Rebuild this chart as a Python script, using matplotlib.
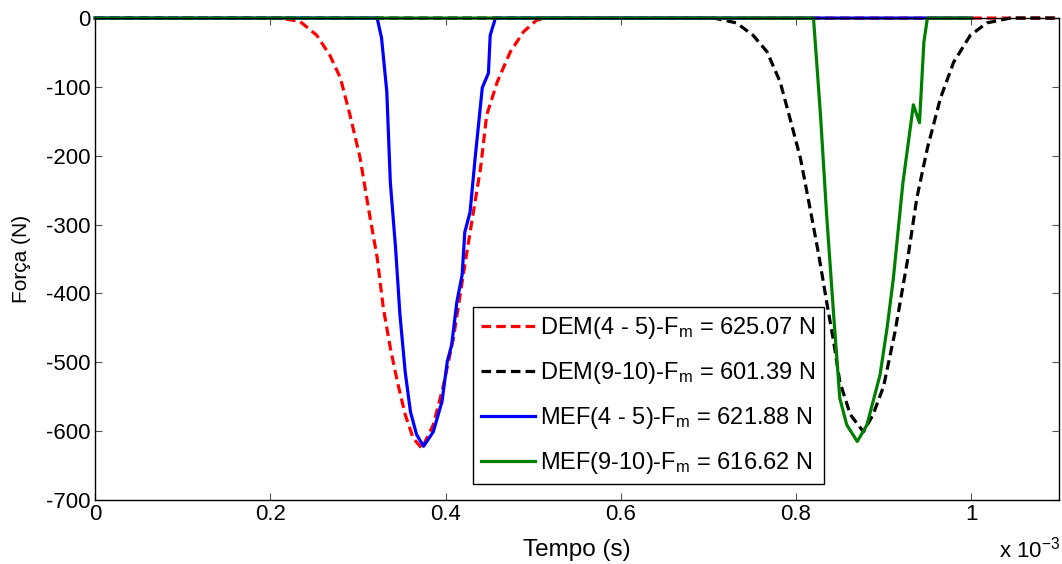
import numpy as np
import matplotlib.pyplot as plt

plt.rcParams['font.family'] = ['Liberation Sans', 'DejaVu Sans']
plt.rcParams['mathtext.fontset'] = 'custom'
plt.rcParams['mathtext.rm'] = 'Liberation Sans'
plt.rcParams['mathtext.it'] = 'Liberation Sans'
plt.rcParams['axes.unicode_minus'] = False

# tempo em ms (x 10^-3 s), forca em N
t_dem45 = [0, 0.20, 0.211, 0.234, 0.253, 0.268, 0.280, 0.291, 0.3025, 0.312, 0.322, 0.329,
           0.337, 0.345, 0.354, 0.363, 0.373, 0.386, 0.397, 0.409, 0.420, 0.430,
           0.440, 0.447, 0.459, 0.474, 0.489, 0.504, 0.516, 1.1]
f_dem45 = [0, 0, 0, -5, -25, -54, -87, -141, -203, -276, -348, -421,
           -479, -528, -576, -610, -625, -591, -537, -465, -375, -296,
           -218, -141, -93, -49, -20, -3, 0, 0]

t_dem910 = [0, 0.69, 0.706, 0.732, 0.751, 0.767, 0.782, 0.793, 0.805, 0.816, 0.826, 0.835,
            0.843, 0.850, 0.862, 0.877, 0.888, 0.900, 0.913, 0.927, 0.938, 0.950,
            0.965, 0.980, 0.999, 1.018, 1.045, 1.1]
f_dem910 = [0, 0, 0, -7, -25, -49, -93, -145, -203, -276, -344, -412,
            -470, -528, -576, -601, -576, -535, -456, -354, -261, -189,
            -116, -64, -25, -7, 0, 0]

t_mef45 = [0, 0.322, 0.327, 0.333, 0.337, 0.343, 0.348, 0.354, 0.360, 0.367, 0.375,
           0.386, 0.396, 0.402, 0.407, 0.413, 0.419, 0.422, 0.428, 0.434, 0.442,
           0.449, 0.451, 0.457, 1.0]
f_mef45 = [0, 0, -29, -107, -238, -334, -431, -514, -572, -605, -622,
           -601, -557, -499, -475, -412, -373, -311, -282, -201, -101,
           -80, -25, 0, 0]

t_mef910 = [0, 0.820, 0.828, 0.835, 0.843, 0.850, 0.858, 0.870, 0.881, 0.896, 0.904,
            0.911, 0.922, 0.934, 0.941, 0.946, 0.950, 1.0]
f_mef910 = [0, 0, -141, -286, -431, -552, -591, -615, -591, -518, -450,
            -380, -240, -126, -152, -35, 0, 0]

labels = ['DEM(4 - 5)-F$_m$ = 625.07 N', 'DEM(9-10)-F$_m$ = 601.39 N',
          'MEF(4 - 5)-F$_m$ = 621.88 N', 'MEF(9-10)-F$_m$ = 616.62 N']

fig = plt.figure(figsize=(10.62, 5.64), dpi=100)
ax = fig.add_axes([0.0895, 0.1135, 0.9075, 0.8545])

ax.plot(t_dem45, f_dem45, 'r--', lw=2.3, dashes=(3, 1.6), label=labels[0], clip_on=False)
ax.plot(t_dem910, f_dem910, 'k--', lw=2.3, dashes=(3, 1.6), label=labels[1], clip_on=False)
ax.plot(t_mef45, f_mef45, color='#0000ff', lw=2.3, label=labels[2], clip_on=False)
ax.plot(t_mef910, f_mef910, color='#008000', lw=2.3, label=labels[3], clip_on=False)

ax.set_xlim(0, 1.1)
ax.set_ylim(-700, 0)
ax.set_xticks([0, 0.2, 0.4, 0.6, 0.8, 1.0])
ax.set_xticklabels(['0', '0.2', '0.4', '0.6', '0.8', '1'])
ax.set_yticks(np.arange(-700, 1, 100))
ax.tick_params(direction='in', top=True, right=True, length=5, width=0.8,
               labelsize=16, color='#555555', pad=3)
for s in ax.spines.values():
    s.set_linewidth(1.0)
    s.set_color('k')

ax.set_xlabel('Tempo (s)', fontsize=17.5, labelpad=10)
ax.set_ylabel('Força (N)', fontsize=15, labelpad=11)
fig.text(0.998, 0.003, 'x 10$^{-3}$', fontsize=16, ha='right', va='bottom')

leg = ax.legend(loc='upper left', bbox_to_anchor=(0.392, 0.40), fontsize=17,
                handlelength=2.3, handletextpad=0.2, borderpad=0.35, labelspacing=0.8,
                fancybox=False, framealpha=1, edgecolor='k', borderaxespad=0)
leg.get_frame().set_linewidth(1.0)
leg.set_zorder(5)

fig.savefig('out.png', dpi=100)
